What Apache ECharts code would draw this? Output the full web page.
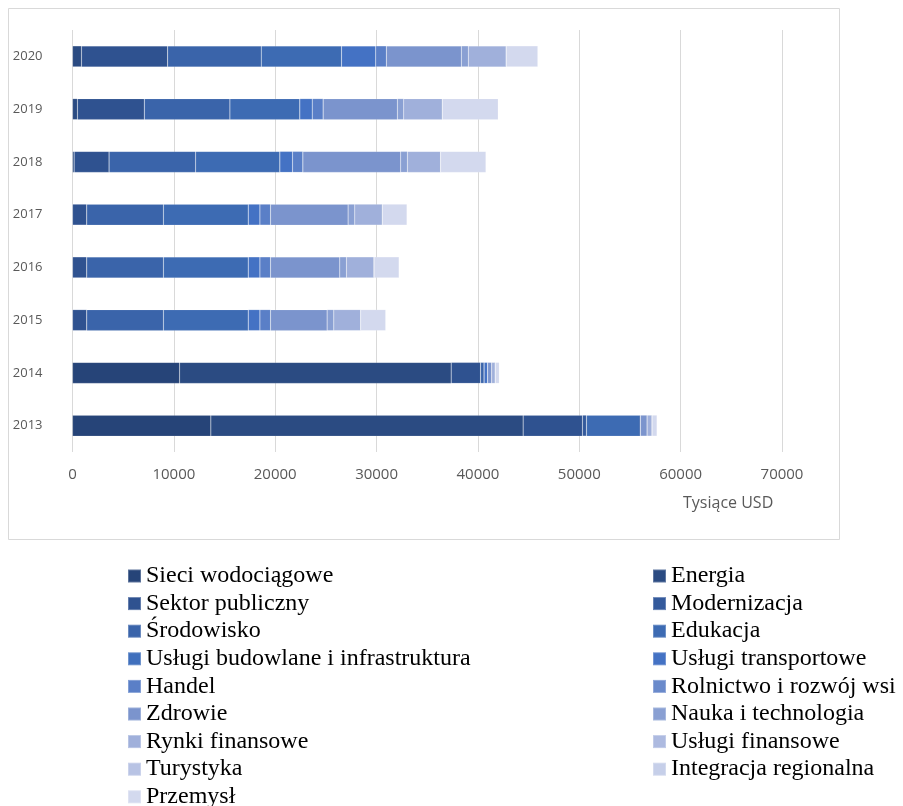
<!DOCTYPE html>
<html>
<head>
<meta charset="utf-8">
<script src="https://cdn.jsdelivr.net/npm/echarts@6/dist/echarts.min.js"></script>
<style>
html,body{margin:0;padding:0;background:#fff;}
#c{width:903px;height:806px;}
</style>
</head>
<body>
<div id="c"></div>
<script>
// Categories (bottom to top)
const years = ['2013', '2014', '2015', '2016', '2017', '2018', '2019', '2020'];
// X axis ticks
const xTicks = [0, 10000, 20000, 30000, 40000, 50000, 60000, 70000];
const axisTitle = 'Tysiące USD';

// Series values (thousand USD), order = years
const sieciWodociagowe      = [13650, 10570, 0, 0, 0, 0, 0, 0];
const energia               = [30810, 26790, 0, 0, 0, 160, 490, 887];
const sektorPubliczny       = [5850, 2900, 1410, 1410, 1410, 3450, 6600, 8503];
const modernizacja          = [400, 0, 0, 0, 0, 0, 0, 0];
const srodowisko            = [0, 350, 7560, 7560, 7560, 8540, 8440, 9230];
const edukacja              = [5320, 0, 8370, 8370, 8370, 8310, 6900, 7920];
const uslugiBudowlane       = [0, 0, 0, 0, 0, 0, 0, 0];
const uslugiTransportowe    = [0, 350, 1150, 1150, 1150, 1250, 1220, 3380];
const handel                = [0, 0, 1050, 1050, 1050, 1020, 1080, 1050];
const rolnictwo             = [0, 0, 0, 0, 0, 0, 0, 0];
const zdrowie               = [660, 400, 5580, 6830, 7650, 9650, 7320, 7390];
const nauka                 = [0, 0, 660, 660, 660, 660, 630, 690];
const rynkiFinansowe        = [490, 350, 2660, 2720, 2720, 3280, 3810, 3740];
const uslugiFinansowe       = [0, 0, 0, 0, 0, 0, 0, 0];
const turystyka             = [0, 0, 0, 0, 0, 0, 0, 0];
const integracjaRegionalna  = [0, 0, 0, 0, 0, 0, 0, 0];
const przemysl              = [490, 400, 2460, 2470, 2430, 4470, 5510, 3120];

const seriesNames = [
  'Sieci wodociągowe', 'Energia', 'Sektor publiczny', 'Modernizacja',
  'Środowisko', 'Edukacja', 'Usługi budowlane i infrastruktura', 'Usługi transportowe',
  'Handel', 'Rolnictwo i rozwój wsi', 'Zdrowie', 'Nauka i technologia',
  'Rynki finansowe', 'Usługi finansowe', 'Turystyka', 'Integracja regionalna', 'Przemysł'
];
const seriesValues = [
  sieciWodociagowe, energia, sektorPubliczny, modernizacja,
  srodowisko, edukacja, uslugiBudowlane, uslugiTransportowe,
  handel, rolnictwo, zdrowie, nauka,
  rynkiFinansowe, uslugiFinansowe, turystyka, integracjaRegionalna, przemysl
];
const seriesColors = [
  '#264478', '#2b4b82', '#2f5290', '#345a9c',
  '#3a64aa', '#3d6bb3', '#4070bd', '#4472c4',
  '#5a7fc7', '#6a8acb', '#7b94cd', '#8aa0d3',
  '#a0b0db', '#adbae0', '#b8c3e4', '#c6cfe9', '#d3d9ee'
];

const leftLegend = seriesNames.filter((_, i) => i % 2 === 0);
const rightLegend = seriesNames.filter((_, i) => i % 2 === 1);

const chart = echarts.init(document.getElementById('c'), null, {renderer: 'canvas'});

const legendText = {fontFamily: 'Liberation Serif', fontSize: 24, color: '#000', lineHeight: 24};

const option = {
  backgroundColor: '#fff',
  animation: false,
  graphic: [
    {type: 'rect', shape: {x: 8.5, y: 8.5, width: 831, height: 531},
     style: {fill: 'none', stroke: '#d9d9d9', lineWidth: 1}, silent: true, z: -1},
    {type: 'text', x: 683, y: 503,
     style: {text: axisTitle, fontFamily: 'Open Sans', fontSize: 16, fill: '#595959', textVerticalAlign: 'middle'}}
  ],
  grid: {left: 72.5, right: 121, top: 30, height: 422, containLabel: false},
  xAxis: {
    type: 'value', min: xTicks[0], max: xTicks[xTicks.length - 1], interval: 10000,
    axisLine: {show: false}, axisTick: {show: false},
    splitLine: {show: true, lineStyle: {color: '#d9d9d9', width: 1}},
    axisLabel: {margin: 15, fontFamily: 'Open Sans', fontSize: 15, color: '#595959',
      formatter: v => String(v)}
  },
  yAxis: {
    type: 'category', data: years,
    axisLine: {show: false}, axisTick: {show: false},
    axisLabel: {margin: 30, fontFamily: 'Open Sans', fontSize: 13, color: '#595959'}
  },
  legend: [
    {orient: 'vertical', left: 127, top: 564, height: 300, padding: 0, itemWidth: 13, itemHeight: 13, itemGap: 3.6,
     icon: 'rect', textStyle: legendText, data: leftLegend, selectedMode: false},
    {orient: 'vertical', left: 652, top: 564, height: 300, padding: 0, itemWidth: 13, itemHeight: 13, itemGap: 3.6,
     icon: 'rect', textStyle: legendText, data: rightLegend, selectedMode: false}
  ],
  series: seriesNames.map((name, i) => ({
    name: name, type: 'bar', stack: 'total', barWidth: 21,
    itemStyle: {color: seriesColors[i], borderColor: 'rgba(255,255,255,0.25)', borderWidth: 0.5},
    data: seriesValues[i]
  }))
};
chart.setOption(option);
</script>
</body>
</html>
